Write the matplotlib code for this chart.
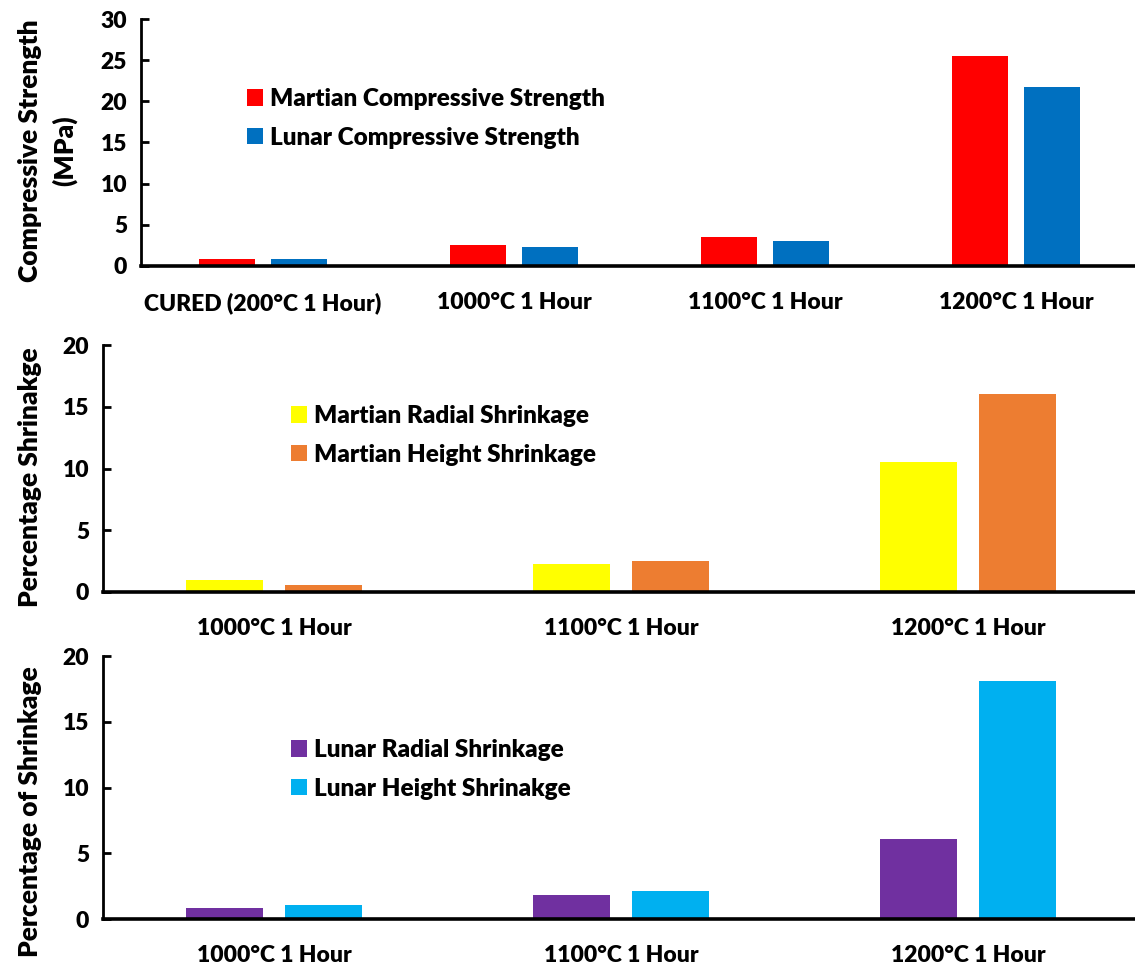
import matplotlib
matplotlib.use("Agg")
import matplotlib.pyplot as plt
import numpy as np

# ---- data ----
strength_categories = ["CURED (200°C 1 Hour)", "1000°C 1 Hour", "1100°C 1 Hour", "1200°C 1 Hour"]
martian_strength = [0.8, 2.5, 3.5, 25.5]
lunar_strength = [0.85, 2.3, 3.0, 21.7]

shrink_categories = ["1000°C 1 Hour", "1100°C 1 Hour", "1200°C 1 Hour"]
martian_radial = [1.0, 2.3, 10.5]
martian_height = [0.55, 2.5, 16.0]
lunar_radial = [0.8, 1.8, 6.1]
lunar_height = [1.1, 2.1, 18.1]

W, H = 1135, 971
plt.rcParams["font.family"] = ["Lato", "DejaVu Sans"]
WEIGHT = "heavy"

fig = plt.figure(figsize=(W / 100, H / 100), dpi=100)


def rect(x0, y0, x1, y1):
    return [x0 / W, 1 - y1 / H, (x1 - x0) / W, (y1 - y0) / H]


FS = 16.5
LEG_FS = 17.5
LAB_FS = 19
BAR_W = 0.223
OFF = 0.143


def style(ax, cats, ymax, xlim):
    for s in ("top", "right"):
        ax.spines[s].set_visible(False)
    ax.spines["bottom"].set_linewidth(2.6)
    ax.spines["left"].set_linewidth(2.0)
    ax.set_xlim(*xlim)
    ax.set_ylim(0, ymax)
    ax.set_yticks(np.arange(0, ymax + 1, 5))
    ax.set_xticks(np.arange(len(cats)))
    ax.set_xticklabels(cats, fontsize=FS, fontweight=WEIGHT)
    ax.tick_params(axis="x", length=0, pad=19)
    ax.tick_params(axis="y", direction="in", length=6, width=2, pad=10, labelsize=FS)
    for t in ax.get_yticklabels():
        t.set_fontweight(WEIGHT)


def pair(ax, a, b, ca, cb, la, lb, legend_xy):
    x = np.arange(len(a))
    ba = ax.bar(x - OFF, a, BAR_W, color=ca, label=la)
    bb = ax.bar(x + OFF, b, BAR_W, color=cb, label=lb)
    leg = fig.legend(handles=[ba, bb], loc="upper left",
                     bbox_to_anchor=(legend_xy[0] / W, 1 - legend_xy[1] / H),
                     frameon=False, prop={"size": LEG_FS, "weight": WEIGHT},
                     handlelength=0.65, handleheight=0.65, handletextpad=0.3,
                     labelspacing=0.68, borderaxespad=0, borderpad=0)
    return leg


# top: compressive strength
ax1 = fig.add_axes(rect(141, 19, 1135, 266))
pair(ax1, martian_strength, lunar_strength, "#FF0000", "#0070C0",
     "Martian Compressive Strength", "Lunar Compressive Strength", (247, 88))
style(ax1, strength_categories, 30, (-0.486, 3.474))
fig.text(30 / W, 1 - 151 / H, "Compressive Strength", rotation=90, ha="center", va="center",
         fontsize=LAB_FS, fontweight=WEIGHT)
fig.text(64 / W, 1 - 151 / H, "(MPa)", rotation=90, ha="center", va="center",
         fontsize=LAB_FS, fontweight=WEIGHT)

# middle: Martian shrinkage
ax2 = fig.add_axes(rect(103, 345, 1135, 592))
pair(ax2, martian_radial, martian_height, "#FFFF00", "#ED7D31",
     "Martian Radial Shrinkage", "Martian Height Shrinkage", (291, 405))
style(ax2, shrink_categories, 20, (-0.493, 2.481))
fig.text(30 / W, 1 - 477 / H, "Percentage Shrinakge", rotation=90, ha="center", va="center",
         fontsize=LAB_FS, fontweight=WEIGHT)

# bottom: Lunar shrinkage
ax3 = fig.add_axes(rect(103, 656, 1135, 919))
pair(ax3, lunar_radial, lunar_height, "#7030A0", "#00B0F0",
     "Lunar Radial Shrinkage", "Lunar Height Shrinakge", (291, 739))
style(ax3, shrink_categories, 20, (-0.493, 2.481))
fig.text(30 / W, 1 - 812 / H, "Percentage of Shrinkage", rotation=90, ha="center", va="center",
         fontsize=LAB_FS, fontweight=WEIGHT)

fig.savefig("out.png", dpi=100)
